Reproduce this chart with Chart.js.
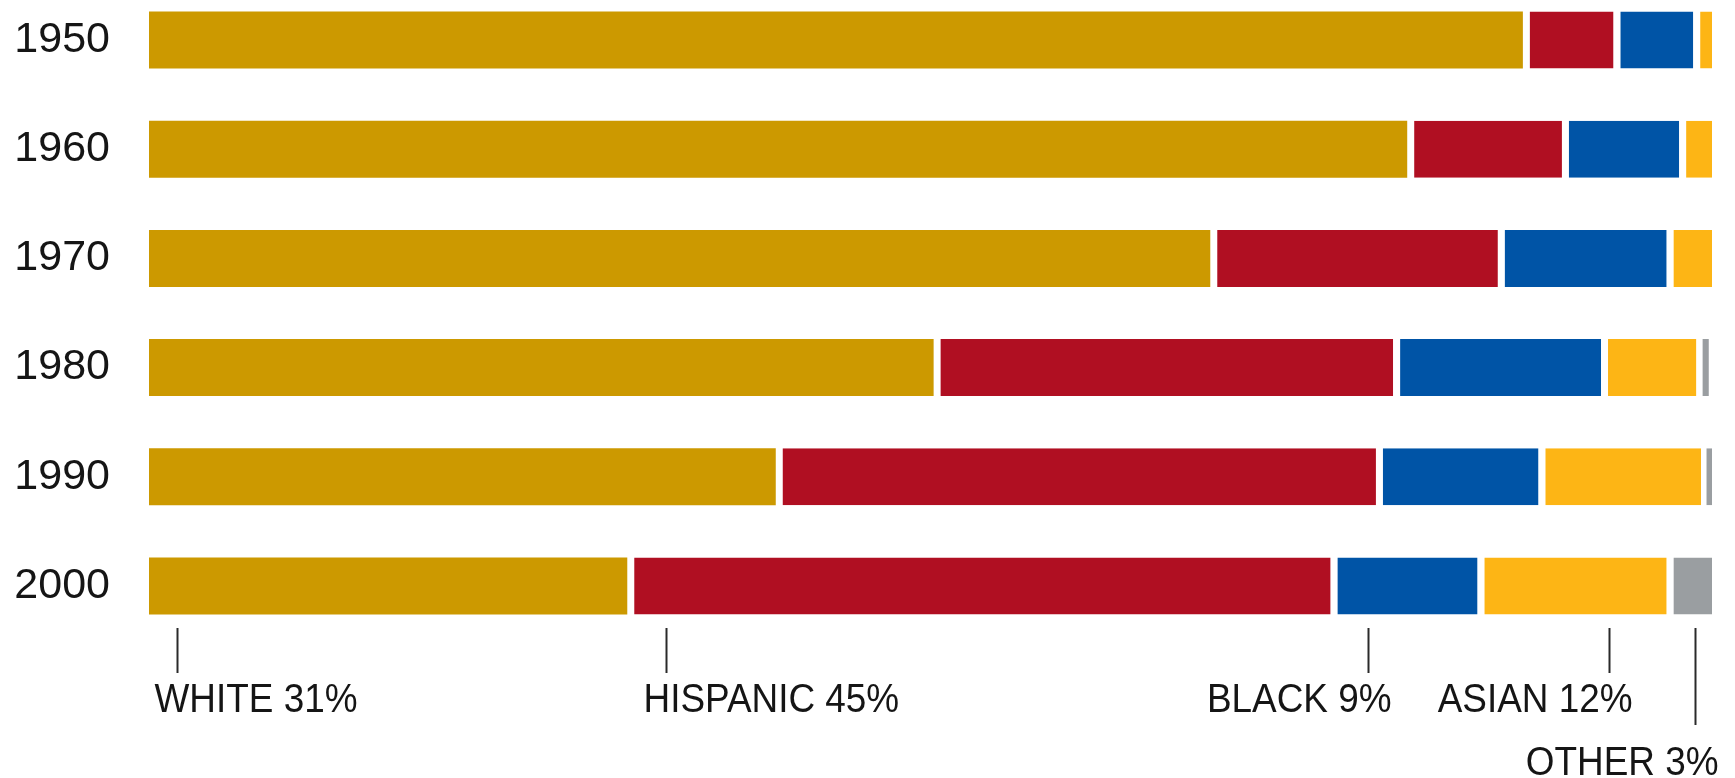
<!DOCTYPE html>
<html>
<head>
<meta charset="utf-8">
<script src="https://cdn.jsdelivr.net/npm/chart.js@4"></script>
<style>
  html, body { margin: 0; padding: 0; background: #fff; }
  #wrap { width: 1735px; height: 778px; }
</style>
</head>
<body>
<div id="wrap"><canvas id="raceChart"></canvas></div>
<script>
const years = ['1950', '1960', '1970', '1980', '1990', '2000'];
const white = [87.9, 80.5, 67.9, 50.2, 40.1, 30.6];
const hispanic = [5.8, 9.9, 18.4, 29.4, 38.4, 45.0];
const black = [5.1, 7.5, 10.8, 13.3, 10.4, 9.4];
const asian = [1.2, 2.1, 2.9, 6.1, 10.4, 12.1];
const other = [0, 0, 0, 0.8, 0.7, 2.9];

// 2000 share callouts under the last bar
const calloutText = ['WHITE 31%', 'HISPANIC 45%', 'BLACK 9%', 'ASIAN 12%', 'OTHER 3%'];
const calloutAt = [1.8, 33.1, 78.0, 93.4, 98.9];

function segment(label, data, color, first) {
    return {
        label: label,
        data: data,
        backgroundColor: color,
        borderColor: '#ffffff',
        borderWidth: first ? 0 : { left: 7, right: 0, top: 0, bottom: 0 },
        borderSkipped: false,
        inflateAmount: 0,
        barThickness: 57,
        clip: false
    };
}

const calloutPlugin = {
    id: 'callouts',
    afterDraw(chart) {
        const ctx = chart.ctx;
        const x = chart.scales.x;
        const y = chart.scales.y;
        const top = y.getPixelForValue(years.length - 1) + 42;
        ctx.save();
        ctx.strokeStyle = '#2a2a2a';
        ctx.lineWidth = 2;
        ctx.fillStyle = '#151515';
        ctx.font = '41px "Liberation Sans", Arial, sans-serif';
        ctx.textBaseline = 'alphabetic';
        calloutText.forEach((txt, i) => {
            const px = Math.round(x.getPixelForValue(calloutAt[i])) + 0.5;
            const low = i === calloutText.length - 1;
            const tickEnd = low ? top + 97 : top + 45;
            const base = low ? top + 147 : top + 84;
            ctx.beginPath();
            ctx.moveTo(px, top);
            ctx.lineTo(px, tickEnd);
            ctx.stroke();
            ctx.save();
            const leftSide = i < 2;
            ctx.translate(leftSide ? px - 23 : px + 23, base);
            ctx.scale(0.9, 1);
            ctx.textAlign = leftSide ? 'left' : 'right';
            ctx.fillText(txt, 0, 0);
            ctx.restore();
        });
        ctx.restore();
    }
};

function initChart() {
    const ctx = document.getElementById('raceChart').getContext('2d');
    new Chart(ctx, {
        type: 'bar',
        data: {
            labels: years,
            datasets: [
                segment('White', white, '#CC9900', true),
                segment('Hispanic', hispanic, '#B00F22', false),
                segment('Black', black, '#0054A6', false),
                segment('Asian', asian, '#FDB515', false),
                segment('Other', other, '#9A9EA1', false)
            ]
        },
        options: {
            indexAxis: 'y',
            responsive: true,
            maintainAspectRatio: false,
            animation: false,
            layout: { padding: { top: 40, bottom: 192, right: 23, left: 0 } },
            plugins: {
                legend: { display: false },
                tooltip: { enabled: false }
            },
            scales: {
                x: {
                    stacked: true,
                    min: 0,
                    max: 100,
                    display: false
                },
                y: {
                    stacked: true,
                    offset: false,
                    grid: { display: false, drawTicks: false },
                    border: { display: false },
                    ticks: {
                        color: '#151515',
                        padding: 39,
                        font: { family: '"Liberation Sans", Arial, sans-serif', size: 43 }
                    },
                    afterFit: (axis) => {
                        axis.width = 149;
                        axis.paddingTop = 0;
                        axis.paddingBottom = 0;
                    }
                }
            }
        },
        plugins: [calloutPlugin]
    });
}

window.onload = initChart;
</script>
</body>
</html>
